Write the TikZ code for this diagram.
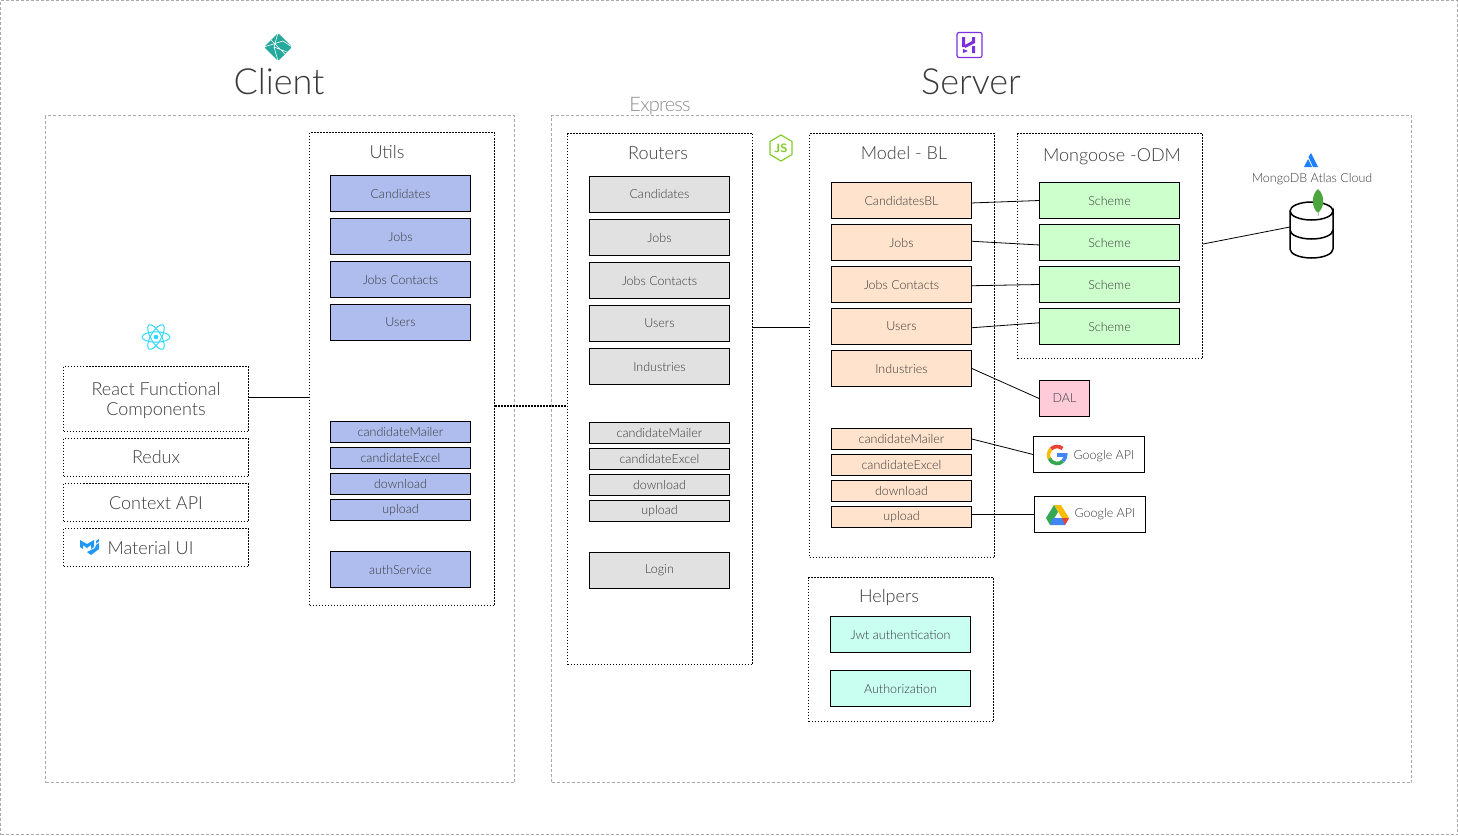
\documentclass[tikz,border=0pt]{standalone}
\usepackage{fontspec}
\setmainfont{Lato Light}
\definecolor{txt}{HTML}{3A3A3A}
\definecolor{edgegray}{HTML}{ABABAB}
\definecolor{utilfill}{HTML}{AEBDEE}
\definecolor{routefill}{HTML}{E1E1E1}
\definecolor{modelfill}{HTML}{FFE3CC}
\definecolor{schemefill}{HTML}{CCFFCC}
\definecolor{dalfill}{HTML}{FFCBD9}
\definecolor{helpfill}{HTML}{C8FFF0}
\definecolor{netlifyteal}{HTML}{25A99C}
\definecolor{herokupurple}{HTML}{7E2FDC}
\definecolor{nodegreen}{HTML}{83CD29}
\definecolor{leafgreen}{HTML}{4DA53F}
\definecolor{atlasblue}{HTML}{1F7FFF}
\definecolor{reactcyan}{HTML}{22D8FF}
\definecolor{muiblue}{HTML}{2196F3}
\definecolor{gred}{HTML}{EA4335}
\definecolor{gyellow}{HTML}{FBBC05}
\definecolor{ggreen}{HTML}{34A853}
\definecolor{gblue}{HTML}{4285F4}
\tikzset{
	area/.style={draw=edgegray,dash pattern=on 3pt off 2pt,line width=.7pt},
	group/.style={draw=black,dash pattern=on 1.5pt off 1.5pt,line width=1pt,text=txt,font=\fontsize{18}{20}\selectfont,align=center,inner sep=0pt},
	item/.style={draw=black,line width=.8pt,minimum width=140pt,minimum height=36pt,inner sep=0pt,text=txt,font=\fontsize{12.5}{14}\selectfont},
	small/.style={item,minimum height=21pt},
	title/.style={text=txt,inner sep=0pt},
	link/.style={draw=black,line width=.8pt}
}
\begin{document}
\begin{tikzpicture}[x=1pt,y=-1pt]
	\useasboundingbox (0,0) rectangle (1458,835);
	% areas
	\node[area,minimum width=1457pt,minimum height=834pt,inner sep=0pt] (page) at (729,417.5) {};
	\node[area,minimum width=469pt,minimum height=667pt,inner sep=0pt] (client) at (280,449) {};
	\node[area,minimum width=860pt,minimum height=667pt,inner sep=0pt] (server) at (981.5,449) {};
	\node[title,font=\fontsize{36}{38}\selectfont] (clienttitle) at (279,82) {Client};
	\node[title,font=\fontsize{36}{38}\selectfont] (servertitle) at (971,82) {Server};
	\node[title,text=black!45,font=\fontsize{20}{22}\selectfont] (express) at (660,106) {\addfontfeatures{LetterSpace=-4}Express};
	% dotted groups
	\node[group,minimum width=185pt,minimum height=473pt] (utils) at (402,369) {};
	\node[group,minimum width=185pt,minimum height=531pt] (routers) at (660,399) {};
	\node[group,minimum width=185pt,minimum height=424pt] (model) at (902,345.5) {};
	\node[group,minimum width=185pt,minimum height=225pt] (mongoose) at (1110,246) {};
	\node[group,minimum width=185pt,minimum height=144pt] (helpers) at (901,649.5) {};
	\node[title,font=\fontsize{18}{20}\selectfont] (utilstitle) at (387,152) {Utils};
	\node[title,font=\fontsize{18}{20}\selectfont] (routerstitle) at (658,153) {Routers};
	\node[title,font=\fontsize{18}{20}\selectfont] (modeltitle) at (904,153) {Model - BL};
	\node[title,font=\fontsize{18}{20}\selectfont] (mongoosetitle) at (1112,157) {Mongoose -ODM};
	\node[title,font=\fontsize{18}{20}\selectfont] (helperstitle) at (889,598) {Helpers};
	% react side
	\node[group,minimum width=185pt,minimum height=65pt] (components) at (156,399) {};
	\node[title,align=center,font=\fontsize{18}{20}\selectfont] (componentslabel) at (156,401) {React Functional\\Components};
	\node[group,minimum width=185pt,minimum height=38pt] (redux) at (156,457.5) {Redux};
	\node[group,minimum width=185pt,minimum height=38pt] (context) at (156,502.5) {};
	\node[title,font=\fontsize{18}{20}\selectfont] (contextlabel) at (156,503.5) {Context API};
	\node[group,minimum width=185pt,minimum height=38pt] (material) at (156,547.5) {};
	\node[title,font=\fontsize{18}{20}\selectfont] (materiallabel) at (150.5,548) {Material UI};
	% items
	\foreach \n/\y/\t in {1/193.5/Candidates,2/236.5/Jobs,3/279.5/Jobs Contacts,4/322.5/Users,5/569.5/authService}
		\node[item,fill=utilfill] (u_\n) at (400.5,\y) {\t};
	\foreach \n/\y/\t in {1/432/candidateMailer,2/458/candidateExcel,3/484/download,4/510/upload}
		\node[small,fill=utilfill] (us_\n) at (400.5,\y) {\t};
	\foreach \n/\y/\t in {1/194.5/Candidates,2/237.5/Jobs,3/280.5/Jobs Contacts,4/323.5/Users,5/366.5/Industries,6/570.5/Login}
		\node[item,fill=routefill] (r_\n) at (659.5,\y) {\t};
	\foreach \n/\y/\t in {1/433/candidateMailer,2/459/candidateExcel,3/485/download,4/511/upload}
		\node[small,fill=routefill] (rs_\n) at (659.5,\y) {\t};
	\foreach \n/\y/\t in {1/200.5/CandidatesBL,2/242.5/Jobs,3/284.5/Jobs Contacts,4/326.5/Users,5/368.5/Industries}
		\node[item,fill=modelfill] (m_\n) at (901.5,\y) {\t};
	\foreach \n/\y/\t in {1/439/candidateMailer,2/465/candidateExcel,3/491/download,4/517/upload}
		\node[small,fill=modelfill] (ms_\n) at (901.5,\y) {\t};
	\foreach \n/\y in {1/200.5,2/242.5,3/284.5,4/326.5}
		\node[item,fill=schemefill] (s_\n) at (1109.5,\y) {Scheme};
	\node[item,fill=dalfill,minimum width=50pt] (dal) at (1064.5,398.5) {DAL};
	\node[item,fill=helpfill] (jwt) at (900.5,634.5) {Jwt authentication};
	\node[item,fill=helpfill] (auth) at (900.5,688.5) {Authorization};
	\node[item,minimum width=111pt] (gmail) at (1089,454.5) {};
	\node[item,minimum width=111pt] (gdrive) at (1090,514.5) {};
	\node[title,font=\fontsize{12.5}{14}\selectfont] (gmaillabel) at (1104,456) {Google API};
	\node[title,font=\fontsize{12.5}{14}\selectfont] (gdrivelabel) at (1105,514.5) {Google API};
	% connectors
	\draw[link] (components.east |- 0,397) -- (utils.west |- 0,397);
	\draw[group,line width=1.3pt] (utils.east |- 0,406) -- (routers.west |- 0,406);
	\draw[link] (routers.east |- m_4.-1) -- (model.west |- m_4.-1);
	\draw[link] (m_1.-2) -- (s_1.west);
	\draw[link] (m_2.1) -- (s_2.-178);
	\draw[link] (m_3.-1) -- (s_3.west);
	\draw[link] (m_4.-1) -- (s_4.177);
	\draw[link] (m_5.east) -- (dal.west);
	\draw[link] (ms_1.east) -- (gmail.west);
	\draw[link] (ms_4.east |- gdrive.west) -- (gdrive.west);
	\coordinate (db) at (1290,227);
	\draw[link] (mongoose.east |- 0,244) -- (db);
	% database
	\draw[line width=1.5pt,fill=white] (1290,211) -- (1290,249) arc (-180:-360:21.5 and 9) -- (1333,211) arc (0:180:21.5 and 9) arc (-180:0:21.5 and 9);
	\draw[line width=1.5pt] (1290,230) arc (-180:-360:21.5 and 9);
	\fill[leafgreen] (1318,189) .. controls (1311,195) and (1311,207) .. (1318,213) .. controls (1325,207) and (1325,195) .. (1318,189);
	\draw[black!25,line width=.6pt] (1318,213) -- (1318,216);
	\node[title,font=\fontsize{12.5}{14}\selectfont] (atlas) at (1312,179) {MongoDB Atlas Cloud};
	\fill[atlasblue] (1304,167) -- (1308,159) -- (1312,167) -- cycle (1308.5,157) -- (1311,153) -- (1318,167) -- (1313,167) -- cycle;
	% netlify
	\fill[rounded corners=2pt,netlifyteal] (278,33) -- (292,47) -- (278,61) -- (264,47) -- cycle;
	\draw[white,line width=.6pt] (271,40) -- (285,54) (278,33) -- (274,47) -- (278,61) (264,47) -- (283,41) -- (292,47) (274,47) -- (287,52);
	% heroku
	\draw[herokupurple,line width=1.2pt,rounded corners=2pt] (957,32.5) rectangle (982,57.5);
	\fill[herokupurple] (962,37) rectangle (965,47) (965,45) -- (972,41) -- (972,37) -- (975,37) -- (975,43) -- (965,48) -- cycle;
	\fill[herokupurple] (972,46) rectangle (975,53) (963,49) -- (968,51) -- (963,53) -- cycle;
	% node
	\draw[nodegreen,line width=1.2pt,line join=round] (781,135) -- (792,141.5) -- (792,154.5) -- (781,161) -- (770,154.5) -- (770,141.5) -- cycle;
	\node[inner sep=0pt,text=nodegreen,font=\sffamily\bfseries\fontsize{12}{12}\selectfont] (nodejs) at (781,148) {JS};
	% react
	\foreach \a in {0,60,120}
		\draw[reactcyan,line width=.9pt,rotate around={\a:(156,337)}] (156,337) ellipse (14 and 5.2);
	\fill[reactcyan] (156,337) circle (2.3);
	% material
	\fill[muiblue] (80,540) -- (87,544) -- (94,540) -- (94,547) -- (91,549) -- (91,545) -- (87,548) -- (83,545) -- (83,549) -- (80,547) -- cycle;
	\fill[muiblue] (96,541) -- (99,539) -- (99,541.5) -- (96,543.5) -- cycle (96,545) -- (99,543) -- (99,549) -- (91,555) -- (87,552) -- (95,548) -- cycle;
	% google
	\draw[gred,line width=3.6pt] ([shift={(-135:8.5)}]1057,455) arc (-135:-50:8.5);
	\draw[gyellow,line width=3.6pt] ([shift={(-135:8.5)}]1057,455) arc (-135:-205:8.5);
	\draw[ggreen,line width=3.6pt] ([shift={(-205:8.5)}]1057,455) arc (-205:-315:8.5);
	\draw[gblue,line width=3.6pt] ([shift={(-315:8.5)}]1057,455) arc (-315:-360:8.5) -- (1057,455);
	% drive
	\fill[gyellow] (1054,505) -- (1061,505) -- (1069,518) -- (1062,518) -- cycle;
	\fill[ggreen] (1054,505) -- (1058,512) -- (1050,525) -- (1046,518) -- cycle;
	\fill[gblue] (1053,518) -- (1069,518) -- (1065,525) -- (1050,525) -- cycle;
	\fill[gred] (1062,518) -- (1069,518) -- (1065,525) -- cycle;
\end{tikzpicture}
\end{document}
